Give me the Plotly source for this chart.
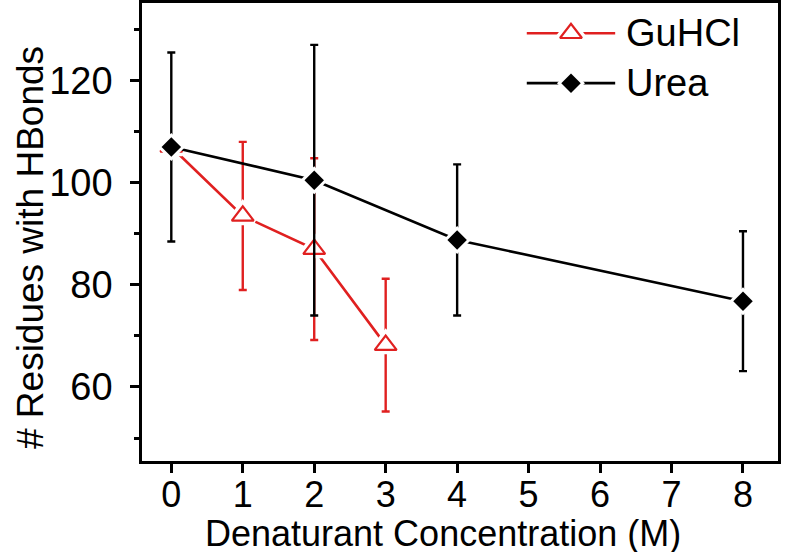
import plotly.graph_objects as go

# Data
gu_x = [0, 1, 2, 3]
gu_y = [107.0, 93.5, 87.0, 68.2]
gu_err = [0.0, 14.5, 17.8, 13.0]

urea_x = [0, 2, 4, 8]
urea_y = [107.0, 100.5, 88.8, 76.8]
urea_err = [18.5, 26.5, 14.8, 13.7]

x_ticks = [0, 1, 2, 3, 4, 5, 6, 7, 8]
y_ticks = [60, 80, 100, 120]
y_minor = [50, 70, 90, 110, 130]

series_names = ["GuHCl", "Urea"]

RED = "#e02020"
FONT = "Liberation Sans, Arial, sans-serif"

gu_line = dict(color=RED, width=2.6)
gu_marker = dict(symbol="triangle-up-open", size=19, color=RED, line=dict(width=2.2, color=RED))
gu_halo = dict(symbol="triangle-up", size=19, color="white", line=dict(width=9, color="white"))
urea_line = dict(color="black", width=2.6)
urea_marker = dict(symbol="diamond", size=15, color="black")
urea_halo = dict(symbol="diamond", size=15, color="white", line=dict(width=6, color="white"))

fig = go.Figure()
series = [
    (gu_x, gu_y, gu_err, gu_line, gu_marker, gu_halo, RED, series_names[0]),
    (urea_x, urea_y, urea_err, urea_line, urea_marker, urea_halo, "black", series_names[1]),
]
for xs, ys, es, ln, mk, halo, col, nm in series:
    fig.add_trace(go.Scatter(
        x=xs, y=ys, name=nm, mode="lines", line=ln, showlegend=False,
        error_y=dict(type="data", array=es, color=col, thickness=2.4, width=4),
    ))
    fig.add_trace(go.Scatter(x=xs, y=ys, mode="markers", marker=halo,
                             showlegend=False, hoverinfo="skip"))
    fig.add_trace(go.Scatter(x=xs, y=ys, name=nm, mode="markers", marker=mk,
                             showlegend=False))

# Custom legend on an overlay unit axis (layout only, not data)
leg_x0, leg_x1, leg_text_x = 0.605, 0.744, 0.758
leg_rows = [0.934, 0.825]
for name, line, marker, halo, ry in zip(series_names, [gu_line, urea_line],
                                        [gu_marker, urea_marker], [gu_halo, urea_halo], leg_rows):
    mid = (leg_x0 + leg_x1) / 2
    fig.add_trace(go.Scatter(
        x=[leg_x0, mid, leg_x1], y=[ry, ry, ry],
        mode="lines", line=line, xaxis="x2", yaxis="y2",
        showlegend=False, hoverinfo="skip"))
    fig.add_trace(go.Scatter(x=[mid], y=[ry], mode="markers", marker=halo,
                             xaxis="x2", yaxis="y2", showlegend=False, hoverinfo="skip"))
    fig.add_trace(go.Scatter(x=[mid], y=[ry], mode="markers", marker=marker,
                             xaxis="x2", yaxis="y2", showlegend=False, hoverinfo="skip"))
    fig.add_annotation(x=leg_text_x, y=ry, xref="x2", yref="y2", text=name,
                       showarrow=False, xanchor="left", yanchor="middle",
                       font=dict(size=38, family=FONT, color="black"))

fig.update_layout(
    width=786, height=552,
    margin=dict(l=142, r=8, t=3, b=91),
    paper_bgcolor="white", plot_bgcolor="white",
    font=dict(family=FONT, size=37, color="black"),
    showlegend=False,
    xaxis2=dict(overlaying="x", range=[0, 1], visible=False, fixedrange=True),
    yaxis2=dict(overlaying="y", range=[0, 1], visible=False, fixedrange=True),
)
fig.layout.xaxis.update(
    range=[-0.41, 8.49], tickmode="array", tickvals=x_ticks,
    ticktext=[str(v) for v in x_ticks],
    showgrid=False, zeroline=False, automargin=False,
    showline=True, linecolor="black", linewidth=2.5, mirror=True,
    ticks="outside", ticklen=9, tickwidth=2.5, tickcolor="black",
    tickfont=dict(size=36), ticklabelstandoff=-9,
)
fig.layout.yaxis.update(
    range=[45.5, 135.2], tickmode="array", tickvals=y_ticks,
    showgrid=False, zeroline=False, automargin=False,
    showline=True, linecolor="black", linewidth=2.5, mirror=True,
    ticks="outside", ticklen=9, tickwidth=2.5, tickcolor="black",
    tickfont=dict(size=38), ticklabelstandoff=10,
    minor=dict(tickvals=y_minor, ticks="outside", ticklen=5, tickwidth=2.5, tickcolor="black"),
)

# Axis titles
fig.add_annotation(x=0.473, y=0, xref="paper", yref="paper", yshift=-72,
                   text="Denaturant Concentration (M)", showarrow=False,
                   xanchor="center", yanchor="middle",
                   font=dict(size=36, family=FONT, color="black"))
fig.add_annotation(x=0, y=0.465, xref="paper", yref="paper", xshift=-112,
                   text="# Residues with HBonds", showarrow=False, textangle=-90,
                   xanchor="center", yanchor="middle",
                   font=dict(size=37, family=FONT, color="black"))

fig.write_html("out.html", config={"displayModeBar": False},
               post_script="document.body.style.margin='0';")
